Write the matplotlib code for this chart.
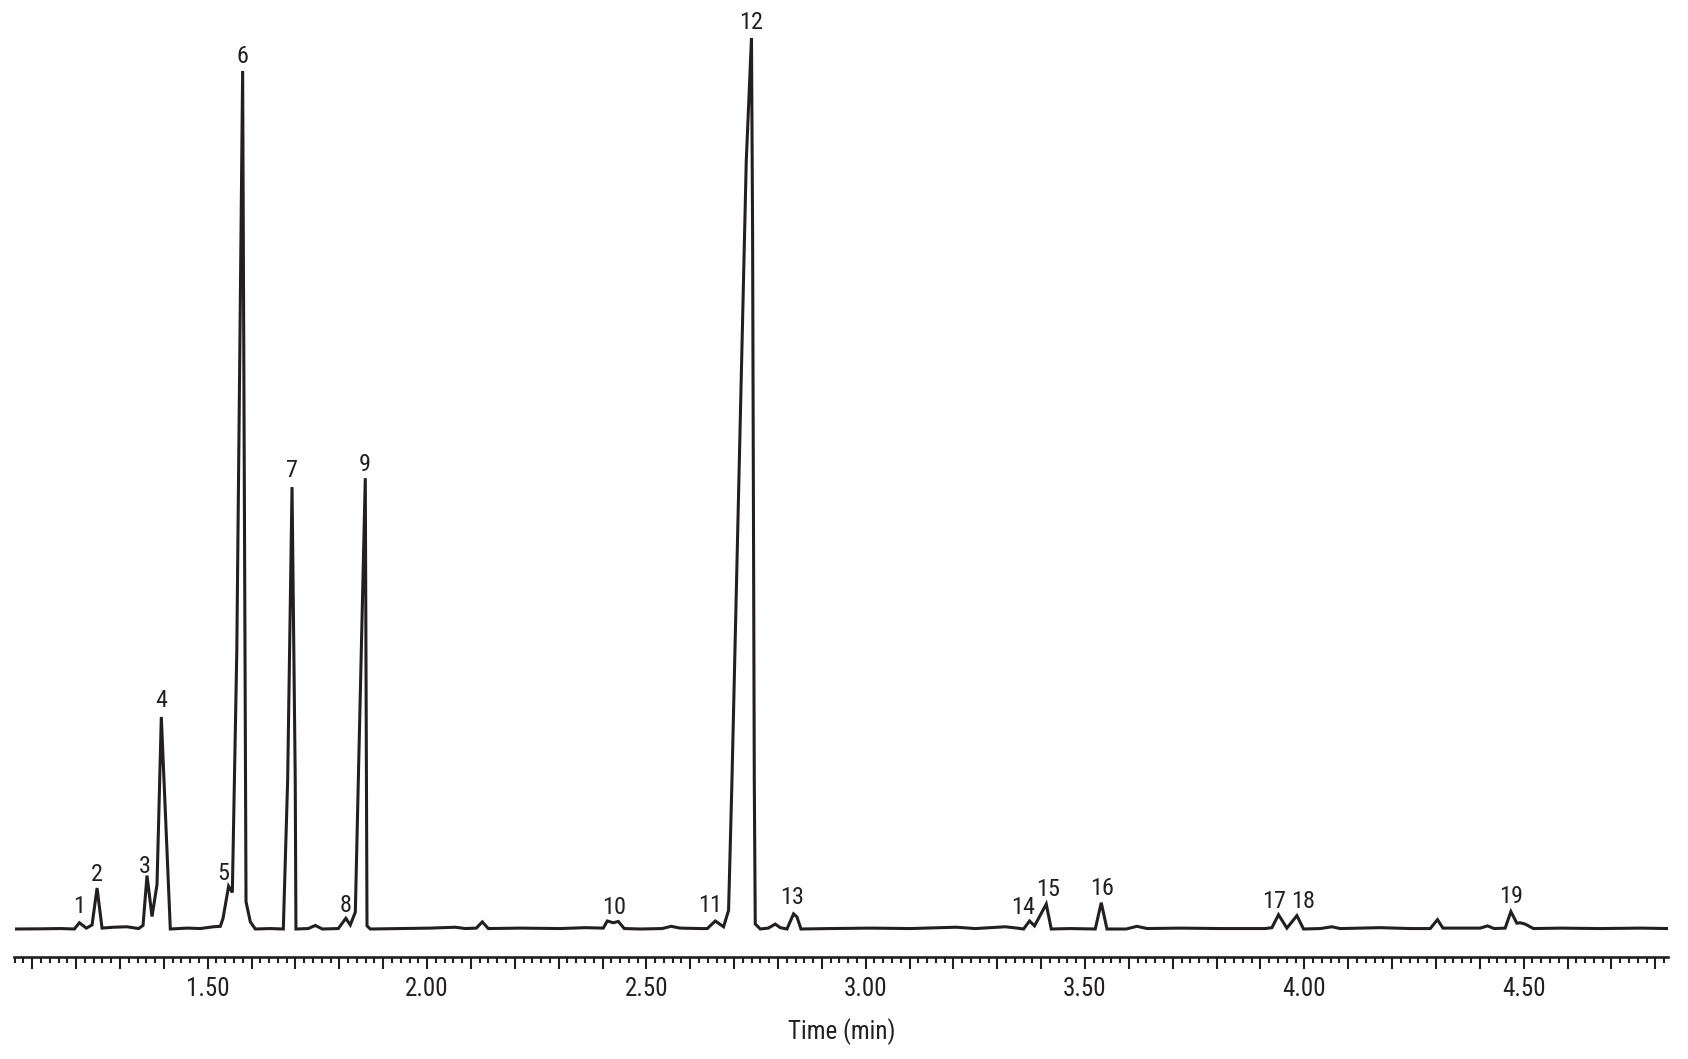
import matplotlib
matplotlib.use('Agg')
import matplotlib.pyplot as plt
from matplotlib import font_manager
from matplotlib.ticker import MultipleLocator, FuncFormatter

# ---- data ----
time_min = [
    1.0600, 1.1180, 1.1640, 1.1960, 1.2073, 1.2233, 1.2363, 1.2477, 1.2591, 1.2848,
    1.3160, 1.3425, 1.3525, 1.3616, 1.3730, 1.3844, 1.3942, 1.4147, 1.4535, 1.4831,
    1.5128, 1.5287, 1.5349, 1.5476, 1.5561, 1.5663, 1.5796, 1.5873, 1.5971, 1.6085,
    1.6427, 1.6723, 1.6822, 1.6922, 1.6995, 1.7011, 1.7293, 1.7453, 1.7612, 1.7977,
    1.8148, 1.8250, 1.8365, 1.8433, 1.8592, 1.8631, 1.8706, 1.9390, 2.0074, 2.0644,
    2.0872, 2.1123, 2.1260, 2.1396, 2.2126, 2.3037, 2.3607, 2.4017, 2.4109, 2.4246,
    2.4360, 2.4496, 2.4860, 2.5360, 2.5563, 2.5770, 2.6229, 2.6389, 2.6571, 2.6760,
    2.6874, 2.6951, 2.7277, 2.7396, 2.7421, 2.7460, 2.7482, 2.7597, 2.7779, 2.7938,
    2.8052, 2.8205, 2.8355, 2.8433, 2.8524, 2.9192, 3.0104, 3.1016, 3.2064, 3.2497,
    3.3181, 3.3454, 3.3598, 3.3735, 3.3849, 3.4116, 3.4230, 3.4663, 3.5233, 3.5370,
    3.5500, 3.5939, 3.6183, 3.6418, 3.7170, 3.8082, 3.9107, 3.9260, 3.9411, 3.9602,
    3.9830, 3.9981, 4.0362, 4.0628, 4.0817, 4.1729, 4.2413, 4.2869, 4.3035, 4.3159,
    4.3553, 4.4008, 4.4175, 4.4328, 4.4578, 4.4708, 4.4845, 4.4920, 4.5034, 4.5223,
    4.5832, 4.6744, 4.7656, 4.8290,
]
signal = [
    0.00, 0.02, 0.05, 0.00, 0.70, 0.10, 0.45, 4.60, 0.10, 0.20,
    0.25, 0.05, 0.40, 6.00, 1.40, 5.00, 23.80, 0.00, 0.10, 0.05,
    0.25, 0.30, 1.20, 4.80, 4.10, 31.30, 96.30, 3.06, 0.80, 0.00,
    0.05, 0.00, 16.70, 49.60, 16.70, 0.00, 0.05, 0.40, 0.00, 0.05,
    1.20, 0.45, 1.90, 16.70, 50.60, 0.35, 0.00, 0.05, 0.10, 0.20,
    0.05, 0.10, 0.80, 0.05, 0.10, 0.05, 0.15, 0.10, 0.90, 0.70,
    0.85, 0.05, 0.00, 0.05, 0.30, 0.10, 0.05, 0.05, 0.90, 0.25,
    2.10, 16.70, 86.20, 100.00, 78.50, 16.70, 0.56, 0.00, 0.10, 0.55,
    0.15, 0.00, 1.70, 1.35, 0.00, 0.05, 0.10, 0.05, 0.20, 0.05,
    0.25, 0.10, 0.00, 0.90, 0.35, 2.80, 0.00, 0.05, 0.00, 2.95,
    0.00, 0.00, 0.30, 0.05, 0.10, 0.05, 0.05, 0.15, 1.60, 0.10,
    1.50, 0.00, 0.05, 0.25, 0.05, 0.15, 0.05, 0.05, 1.05, 0.10,
    0.10, 0.10, 0.35, 0.05, 0.10, 1.95, 0.65, 0.70, 0.55, 0.05,
    0.10, 0.05, 0.10, 0.05,
]

peak_ids = ['1', '2', '3', '4', '5', '6', '7', '8', '9', '10',
            '11', '12', '13', '14', '15', '16', '17', '18', '19']
label_time = [1.2073, 1.2477, 1.3555, 1.3935, 1.5362, 1.5782, 1.6922, 1.8152, 1.8577, 2.4259,
              2.6457, 2.7391, 2.8330, 3.3580, 3.4168, 3.5381, 3.9306, 3.9969, 4.4720]
label_height = [1.75, 5.40, 6.25, 24.90, 5.50, 97.16, 50.76, 1.87, 51.44, 1.68,
                1.87, 100.97, 2.80, 1.68, 3.74, 3.80, 2.32, 2.32, 2.88]

x_range = (1.0595, 4.829)
xlabel = 'Time (min)'

# ---- fonts ----
avail = {f.name for f in font_manager.fontManager.ttflist}
fam = 'DejaVu Sans'
for cand in ['Liberation Sans Narrow', 'Roboto Condensed', 'Liberation Sans', 'DejaVu Sans']:
    if cand in avail:
        fam = cand
        break
plt.rcParams['font.family'] = [fam, 'DejaVu Sans']

ink = '#231f20'

W, H = 1688, 1059
fig = plt.figure(figsize=(W / 100, H / 100), dpi=100)
axis_y = 957      # pixel row of the time axis
base_y = 929      # pixel row of the signal baseline
top_y = 38        # pixel row of the tallest peak (100)
ppu = (base_y - top_y) / 100.0
ax = fig.add_axes([14.5 / W, (H - axis_y) / H, (1668 - 14.5) / W, axis_y / H])

ax.plot(time_min, signal, color=ink, lw=2.2, solid_joinstyle='miter', solid_capstyle='butt')

for lab, t, h in zip(peak_ids, label_time, label_height):
    ax.text(t, h, lab, ha='center', va='baseline', fontsize=17.5, color=ink)

ax.set_xlim(*x_range)
ax.set_ylim(-(axis_y - base_y) / ppu, base_y / ppu)

for s in ['top', 'left', 'right']:
    ax.spines[s].set_visible(False)
ax.spines['bottom'].set_linewidth(1.9)
ax.spines['bottom'].set_color(ink)

ax.xaxis.set_major_locator(MultipleLocator(0.1))
ax.xaxis.set_minor_locator(MultipleLocator(0.02))
ax.xaxis.set_major_formatter(FuncFormatter(
    lambda v, p: f'{v:.2f}' if abs(v * 2 - round(v * 2)) < 1e-6 else ''))
ax.tick_params(axis='x', which='major', length=8.6, width=1.5, direction='out',
               color=ink, labelsize=18, pad=5.5, labelcolor=ink)
ax.tick_params(axis='x', which='minor', length=4.3, width=1.5, direction='out', color=ink)
ax.set_yticks([])
ax.set_xlabel(xlabel, fontsize=18, color=ink, labelpad=13)

fig.savefig('out.png', dpi=100)
